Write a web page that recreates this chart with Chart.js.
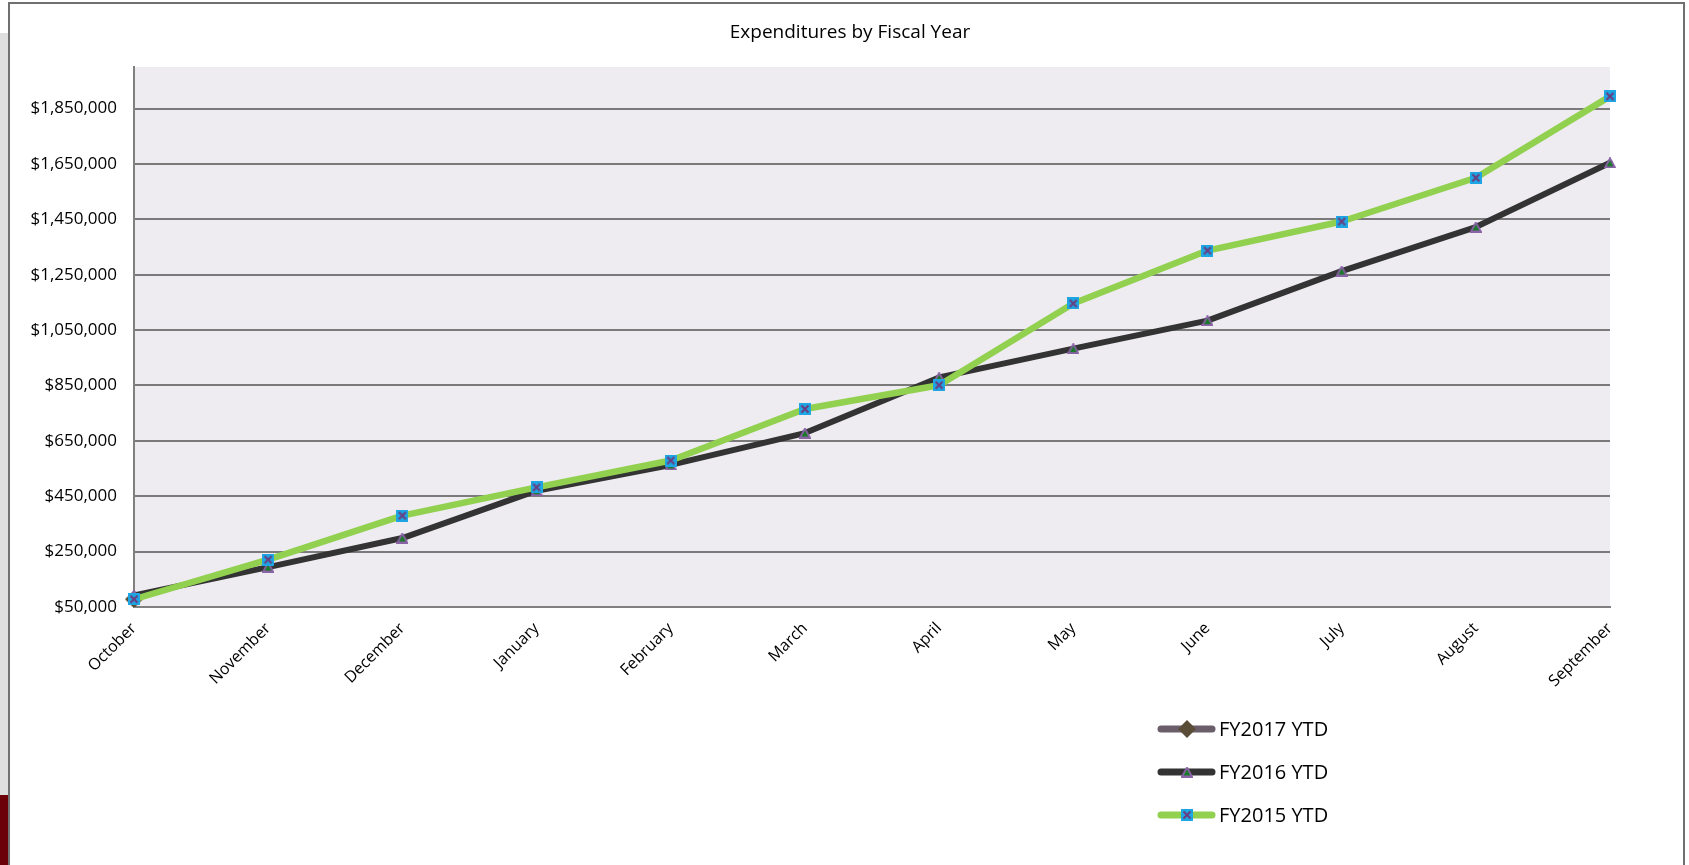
<!DOCTYPE html>
<html>
<head>
<meta charset="utf-8">
<script src="https://cdn.jsdelivr.net/npm/chart.js@4.4.1/dist/chart.umd.min.js"></script>
<style>
  html, body { margin: 0; padding: 0; width: 1689px; height: 865px; overflow: hidden; background: #fff; }
  #strip { position: absolute; left: 0; top: 33px; width: 8px; height: 762px; background: #dedede; }
  #red { position: absolute; left: 0; top: 795px; width: 8px; height: 70px; background: #6b0008; }
  #frame { position: absolute; left: 8px; top: 2px; width: 1677px; height: 880px; border: 2px solid #707070; box-sizing: border-box; background: #fff; }
  #wrap { position: absolute; left: 0; top: 0; width: 1689px; height: 865px; }
</style>
</head>
<body>
<div id="strip"></div>
<div id="red"></div>
<div id="frame"></div>
<div id="wrap"><canvas id="c" width="1689" height="865"></canvas></div>
<script>
const chartTitle = 'Expenditures by Fiscal Year';
const months = ['October','November','December','January','February','March','April','May','June','July','August','September'];
const fy2017 = [78000, null, null, null, null, null, null, null, null, null, null, null];
const fy2016 = [92000, 194000, 299000, 470000, 563000, 678000, 879000, 983000, 1084000, 1263000, 1422000, 1654000];
const fy2015 = [78000, 221000, 380000, 482000, 579000, 765000, 851000, 1146000, 1337000, 1442000, 1600000, 1894000];
const yTicks = [50000, 250000, 450000, 650000, 850000, 1050000, 1250000, 1450000, 1650000, 1850000];
const seriesNames = ['FY2017 YTD', 'FY2016 YTD', 'FY2015 YTD'];

function makeCanvas(w, h) { const c = document.createElement('canvas'); c.width = w; c.height = h; return c; }
const mkSquareX = (() => {
  const c = makeCanvas(12, 12); const x = c.getContext('2d');
  x.fillStyle = '#1ea5e3'; x.fillRect(0, 0, 12, 12);
  x.strokeStyle = '#6a3d80'; x.lineWidth = 2;
  x.beginPath(); x.moveTo(2.5, 2.5); x.lineTo(9.5, 9.5); x.moveTo(9.5, 2.5); x.lineTo(2.5, 9.5); x.stroke();
  return c;
})();
const mkTriangle = (() => {
  const c = makeCanvas(12, 11); const x = c.getContext('2d');
  x.fillStyle = '#1a7a2a'; x.strokeStyle = '#8a62a6'; x.lineWidth = 1.8;
  x.beginPath(); x.moveTo(6, 1); x.lineTo(11, 10); x.lineTo(1, 10); x.closePath(); x.fill(); x.stroke();
  return c;
})();
const mkDiamond = (() => {
  const c = makeCanvas(18, 18); const x = c.getContext('2d');
  x.fillStyle = '#5a4d38';
  x.beginPath(); x.moveTo(9, 0); x.lineTo(18, 9); x.lineTo(9, 18); x.lineTo(0, 9); x.closePath(); x.fill();
  return c;
})();

const legendColors = ['#6b5e6b', '#333333', '#92d050'];
const legendMarkers = [mkDiamond, mkTriangle, mkSquareX];

const plotBg = {
  id: 'plotBg',
  beforeDraw(chart) {
    const a = chart.chartArea, ctx = chart.ctx;
    ctx.save(); ctx.fillStyle = '#eeecf1'; ctx.fillRect(a.left, a.top, a.right - a.left, a.bottom - a.top); ctx.restore();
  }
};
const titleAndLegend = {
  id: 'titleAndLegend',
  afterDraw(chart) {
    const ctx = chart.ctx;
    ctx.save();
    ctx.fillStyle = '#000'; ctx.font = '19px "Open Sans"'; ctx.textBaseline = 'middle'; ctx.textAlign = 'center';
    ctx.fillText(chartTitle, 850, 33);
    chart.data.datasets.forEach((ds, i) => {
      const y = 729 + 43 * i;
      ctx.strokeStyle = legendColors[i]; ctx.lineWidth = 7; ctx.lineCap = 'round';
      ctx.beginPath(); ctx.moveTo(1161, y); ctx.lineTo(1212, y); ctx.stroke();
      const m = legendMarkers[i];
      ctx.drawImage(m, 1187 - m.width / 2, y - m.height / 2);
      ctx.fillStyle = '#000'; ctx.font = '20px "Open Sans"'; ctx.textBaseline = 'middle'; ctx.textAlign = 'left';
      ctx.fillText(ds.label, 1219, y + 1);
    });
    ctx.restore();
  }
};

new Chart(document.getElementById('c'), {
  type: 'line',
  data: {
    labels: months,
    datasets: [
      { label: seriesNames[0], data: fy2017, borderColor: '#6b5e6b', borderWidth: 6, pointStyle: mkDiamond, pointRadius: 9, order: 2 },
      { label: seriesNames[1], data: fy2016, borderColor: '#333333', borderWidth: 6, pointStyle: mkTriangle, pointRadius: 5, order: 1 },
      { label: seriesNames[2], data: fy2015, borderColor: '#92d050', borderWidth: 6.5, pointStyle: mkSquareX, pointRadius: 5, order: 0 }
    ]
  },
  options: {
    responsive: false,
    animation: false,
    devicePixelRatio: 1,
    layout: { padding: { left: 0, right: 79, top: 67, bottom: 148 } },
    elements: { line: { tension: 0, borderJoinStyle: 'round', borderCapStyle: 'round' } },
    plugins: {
      legend: { display: false },
      tooltip: { enabled: false },
      title: { display: false }
    },
    scales: {
      x: {
        offset: false,
        grid: { display: false, drawTicks: false },
        border: { display: true, color: '#808080', width: 2 },
        ticks: { color: '#000', font: { family: 'Open Sans', size: 16 }, minRotation: 45, maxRotation: 45, padding: 12, autoSkip: false },
        afterFit(s) { s.height = 110; }
      },
      y: {
        min: 50000, max: 2000000,
        grid: { color: '#7a7a7a', lineWidth: 2, drawTicks: false },
        border: { display: true, color: '#808080', width: 2 },
        ticks: {
          color: '#000', font: { family: 'Open Sans', size: 17 }, padding: 17,
          callback: v => '$' + Number(v).toLocaleString('en-US')
        },
        afterBuildTicks(s) { s.ticks = yTicks.map(v => ({ value: v })); },
        afterFit(s) { s.width = 134; }
      }
    }
  },
  plugins: [plotBg, titleAndLegend]
});
</script>
</body>
</html>
